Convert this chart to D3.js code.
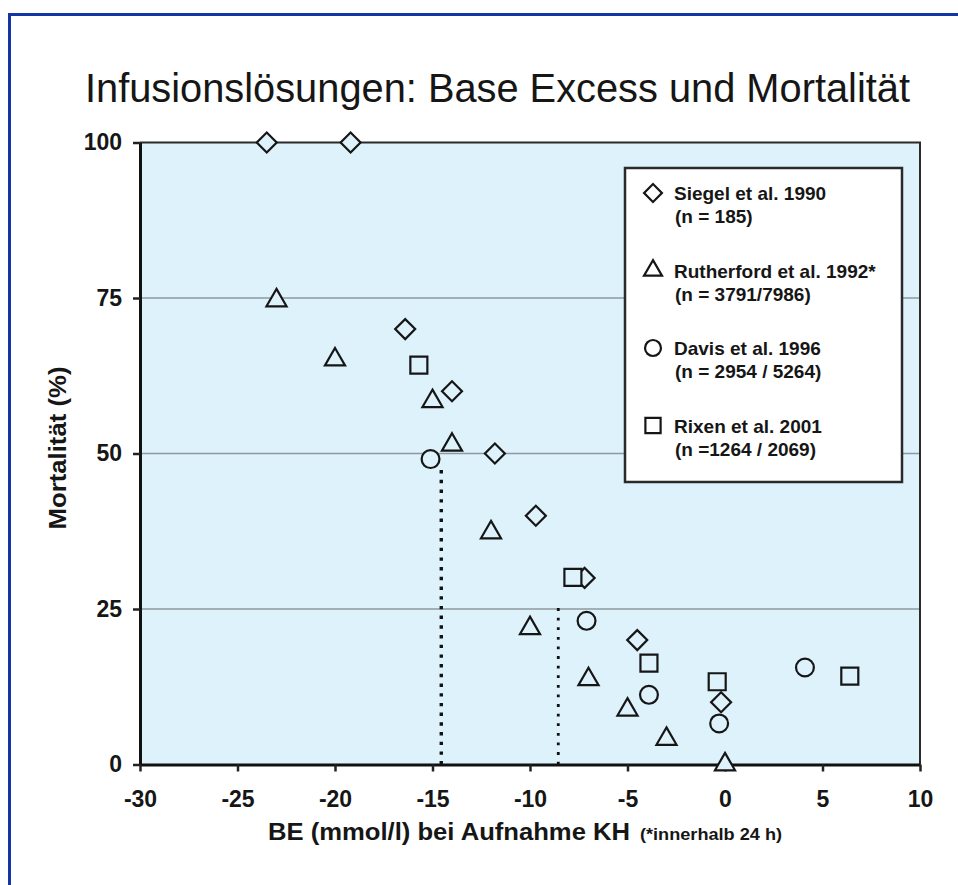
<!DOCTYPE html>
<html>
<head>
<meta charset="utf-8">
<script src="https://cdn.jsdelivr.net/npm/d3@7"></script>
<style>
  body { margin: 0; background: #fff; }
  svg { display: block; font-family: "Liberation Sans", Arial, sans-serif; }
</style>
</head>
<body>
<div id="chart"></div>
<script>
// data
var xTicks = [-30, -25, -20, -15, -10, -5, 0, 5, 10];
var yTicks = [0, 25, 50, 75, 100];

var siegelBE   = [-23.5, -19.2, -16.4, -14.0, -11.8, -9.7, -7.2, -4.5, -0.2];
var siegelMort = [100, 100, 70, 60, 50, 40, 30, 20, 10];

var rutherfordBE   = [-23.0, -20.0, -15.0, -14.0, -12.0, -10.0, -7.0, -5.0, -3.0, 0.0];
var rutherfordMort = [74.6, 65.1, 58.4, 51.4, 37.3, 21.9, 13.7, 8.8, 4.1, 0];

var davisBE   = [-15.1, -7.1, -3.9, -0.3, 4.1];
var davisMort = [49.1, 23.1, 11.2, 6.6, 15.6];

var rixenBE   = [-15.7, -7.8, -3.9, -0.4, 6.4];
var rixenMort = [64.2, 30.1, 16.3, 13.3, 14.2];

var legendLabels = [
  ["Siegel et al. 1990", "(n = 185)"],
  ["Rutherford et al. 1992*", "(n = 3791/7986)"],
  ["Davis et al. 1996", "(n = 2954 / 5264)"],
  ["Rixen et al. 2001", "(n =1264 / 2069)"]
];

// dotted reference lines: BE value and mortality where they stop
var refBE   = [-14.55, -8.55];
var refTop  = [47.6, 25.4];

/*
 *  layout
 */
var width = 958, height = 885;
var plot = {left: 140, right: 920, top: 142.5, bottom: 764.5};
var bg = "#ddf2fb";
var ink = "#161616";

var x_scale = d3.scaleLinear().domain([-30, 10]).range([plot.left, plot.right]);
var y_scale = d3.scaleLinear().domain([0, 100]).range([plot.bottom, plot.top]);

var svg = d3.select("#chart").append("svg")
    .attr("width", width)
    .attr("height", height);

// blue outer frame (only left and top edge inside the picture)
svg.append("path")
    .attr("d", "M9.5," + height + "V14.5H" + width)
    .attr("fill", "none")
    .attr("stroke", "#1236a6")
    .attr("stroke-width", 3);

// title
svg.append("text")
    .attr("x", 85)
    .attr("y", 102)
    .attr("font-size", 41)
    .attr("textLength", 825)
    .attr("lengthAdjust", "spacingAndGlyphs")
    .attr("fill", ink)
    .text("Infusionslösungen: Base Excess und Mortalität");

// plot background
svg.append("rect")
    .attr("x", plot.left).attr("y", plot.top)
    .attr("width", plot.right - plot.left)
    .attr("height", plot.bottom - plot.top)
    .attr("fill", bg);

// gridlines
svg.selectAll(".grid")
    .data(yTicks.filter(function(d) { return d > 0 && d < 100; }))
    .enter().append("line")
    .attr("class", "grid")
    .attr("x1", plot.left).attr("x2", plot.right)
    .attr("y1", function(d) { return y_scale(d); })
    .attr("y2", function(d) { return y_scale(d); })
    .attr("stroke", "#8e999e")
    .attr("stroke-width", 1.5);

// top + right border
svg.append("path")
    .attr("d", "M" + plot.left + "," + plot.top + "H" + plot.right + "V" + plot.bottom)
    .attr("fill", "none")
    .attr("stroke", "#2b2b2b")
    .attr("stroke-width", 2);

// dotted reference lines
svg.selectAll(".ref")
    .data(refBE)
    .enter().append("line")
    .attr("class", "ref")
    .attr("x1", function(d) { return x_scale(d); })
    .attr("x2", function(d) { return x_scale(d); })
    .attr("y1", y_scale(0))
    .attr("y2", function(d, i) { return y_scale(refTop[i]); })
    .attr("stroke", "#111")
    .attr("stroke-width", function(d, i) { return i == 0 ? 3.4 : 2.8; })
    .attr("stroke-dasharray", function(d, i) { return i == 0 ? "3.4 6.3" : "2.8 6.8"; });

// axes
var fmt = function(d) { return String(d); };   // plain hyphen like the original

svg.append("g")
    .attr("class", "axis axis--y")
    .attr("transform", "translate(" + plot.left + ",0)")
    .call(d3.axisLeft(y_scale).tickValues(yTicks).tickFormat(fmt)
        .tickSize(7).tickSizeOuter(0).tickPadding(11));

svg.append("g")
    .attr("class", "axis axis--x")
    .attr("transform", "translate(0," + plot.bottom + ")")
    .call(d3.axisBottom(x_scale).tickValues(xTicks).tickFormat(fmt)
        .tickSize(7).tickSizeOuter(0).tickPadding(19));

svg.selectAll(".axis path.domain")
    .attr("stroke", "#111")
    .attr("stroke-width", 3);
svg.selectAll(".axis .tick line")
    .attr("stroke", "#222")
    .attr("stroke-width", 2.5);
svg.selectAll(".axis text")
    .attr("font-family", "'Liberation Sans', Arial, sans-serif")
    .attr("font-size", 23)
    .attr("font-weight", "bold")
    .attr("fill", ink);

// axis titles
svg.append("text")
    .attr("transform", "translate(66,448)rotate(-90)")
    .attr("text-anchor", "middle")
    .attr("font-size", 24)
    .attr("font-weight", "bold")
    .attr("textLength", 163)
    .attr("lengthAdjust", "spacingAndGlyphs")
    .attr("fill", ink)
    .text("Mortalität (%)");

svg.append("text")
    .attr("x", 268)
    .attr("y", 840)
    .attr("font-size", 23)
    .attr("font-weight", "bold")
    .attr("textLength", 362)
    .attr("lengthAdjust", "spacingAndGlyphs")
    .attr("fill", ink)
    .text("BE (mmol/l) bei Aufnahme KH");

svg.append("text")
    .attr("x", 640)
    .attr("y", 840)
    .attr("font-size", 16)
    .attr("font-weight", "bold")
    .attr("textLength", 142)
    .attr("lengthAdjust", "spacingAndGlyphs")
    .attr("fill", ink)
    .text("(*innerhalb 24 h)");

/*
 *  markers
 */
var shapes = [
  {type: d3.symbolSquare, size: 200, rotate: 45},   // diamond
  {type: d3.symbolTriangle, size: 175, rotate: 0},
  {type: d3.symbolCircle, size: 250, rotate: 0},
  {type: d3.symbolSquare, size: 289, rotate: 0}
];
var series = [
  [siegelBE, siegelMort],
  [rutherfordBE, rutherfordMort],
  [davisBE, davisMort],
  [rixenBE, rixenMort]
];

series.forEach(function(s, k) {
    var pts = s[0].map(function(v, i) { return [v, s[1][i]]; });
    svg.append("g")
        .selectAll("path")
        .data(pts)
        .enter().append("path")
        .attr("d", d3.symbol().type(shapes[k].type).size(shapes[k].size))
        .attr("transform", function(d) {
            return "translate(" + x_scale(d[0]) + "," + y_scale(d[1]) + ")rotate(" + shapes[k].rotate + ")";
        })
        .attr("fill", bg)
        .attr("stroke", ink)
        .attr("stroke-width", 2.2);
});

/*
 *  legend
 */
var legend = svg.append("g").attr("transform", "translate(625,168)");
legend.append("rect")
    .attr("width", 277)
    .attr("height", 314)
    .attr("fill", "#fff")
    .attr("stroke", "#2a2a2a")
    .attr("stroke-width", 2.5);

var lg = legend.selectAll(".item")
    .data(legendLabels)
    .enter().append("g")
    .attr("class", "item")
    .attr("transform", function(d, i) { return "translate(0," + (i * 77.5) + ")"; });

lg.append("path")
    .attr("d", function(d, i) { return d3.symbol().type(shapes[i].type).size(shapes[i].size * 0.8)(); })
    .attr("transform", function(d, i) { return "translate(28,25)rotate(" + shapes[i].rotate + ")"; })
    .attr("fill", "#fff")
    .attr("stroke", ink)
    .attr("stroke-width", 2.2);

lg.append("text")
    .attr("x", 49)
    .attr("y", 32)
    .attr("font-size", 19)
    .attr("font-weight", "bold")
    .attr("fill", ink)
    .text(function(d) { return d[0]; });

lg.append("text")
    .attr("x", 50)
    .attr("y", 55)
    .attr("font-size", 19)
    .attr("font-weight", "bold")
    .attr("fill", ink)
    .text(function(d) { return d[1]; });
</script>
</body>
</html>
